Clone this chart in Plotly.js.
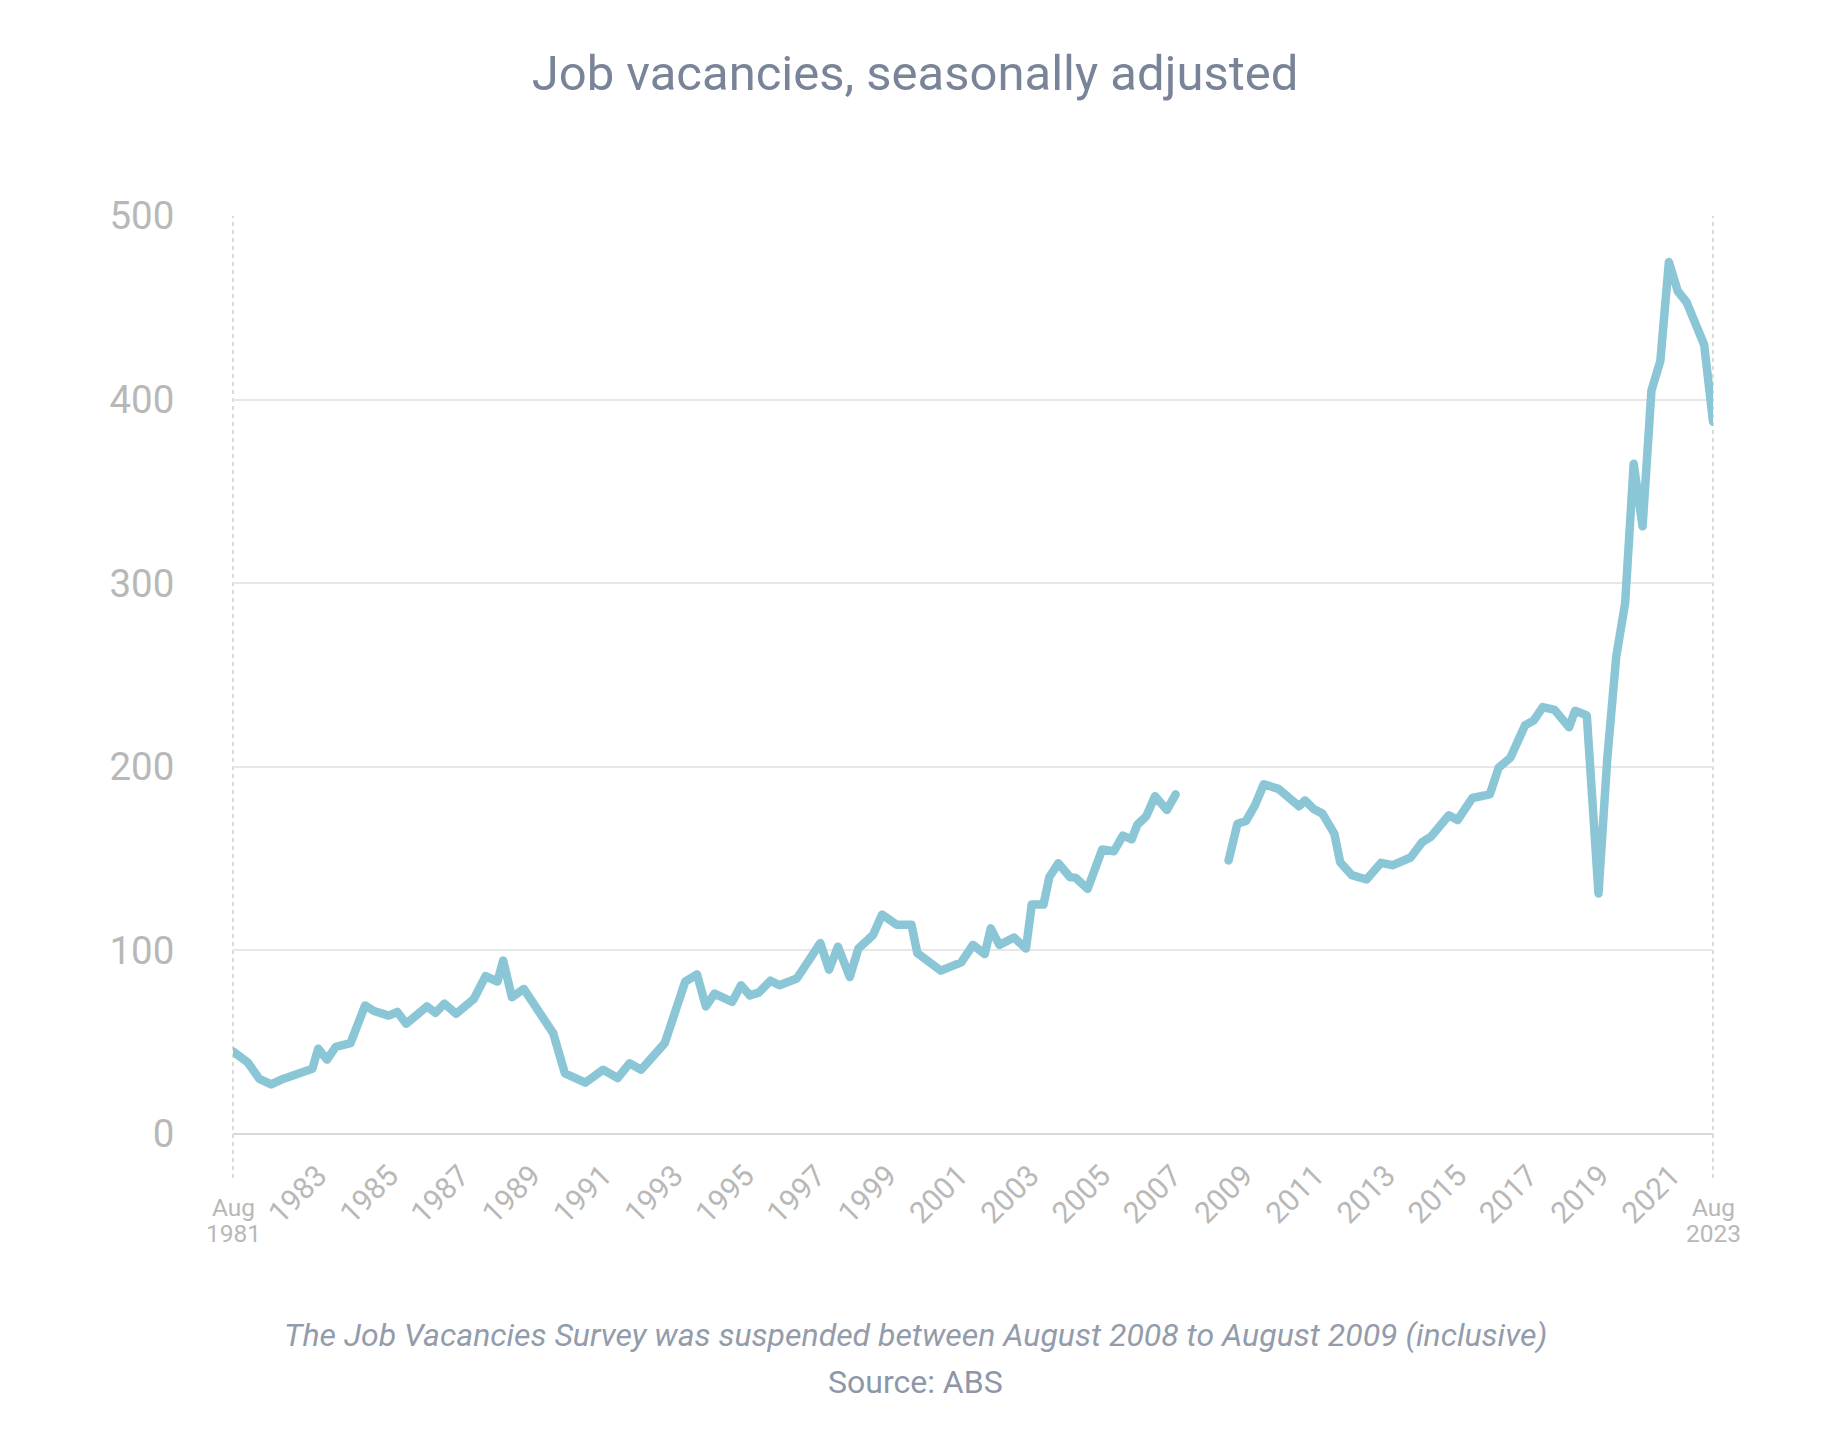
<!DOCTYPE html>
<html>
<head>
<meta charset="utf-8">
<script src="https://cdn.plot.ly/plotly-3.0.1.min.js"></script>
<style>
  html, body { margin: 0; padding: 0; background: #ffffff; }
  #chart { width: 1830px; height: 1436px; }
</style>
</head>
<body>
<div id="chart"></div>
<script>
// Job vacancies, seasonally adjusted ('000)
const dates = [
  "1981-08","1982-01","1982-05","1982-09","1983-01","1983-03","1983-11","1984-01","1984-04","1984-07",
  "1984-12","1985-05","1985-08","1986-01","1986-04","1986-07","1986-10","1987-02","1987-05","1987-08",
  "1987-12","1988-06","1988-10","1989-02","1989-04","1989-07","1989-11","1990-09","1991-01","1991-08",
  "1992-02","1992-07","1992-11","1993-03","1993-11","1994-06","1994-10","1995-01","1995-04","1995-10",
  "1996-01","1996-04","1996-07","1996-11","1997-02","1997-08","1998-04","1998-07","1998-10","1999-02",
  "1999-05","1999-10","2000-01","2000-06","2000-11","2001-01","2001-09","2002-04","2002-08","2002-12",
  "2003-02","2003-05","2003-10","2004-02","2004-04","2004-08","2004-10","2005-01","2005-05","2005-07",
  "2005-11","2006-04","2006-08","2006-11","2007-02","2007-04","2007-07","2007-10","2008-02","2008-05",
  "2008-08",
  "2009-11","2010-02","2010-05","2010-08","2010-11","2011-04","2011-11","2012-01","2012-04","2012-07",
  "2012-11","2013-01","2013-05","2013-10","2014-03","2014-07","2015-01","2015-05","2015-08","2016-02",
  "2016-05","2016-10","2017-04","2017-07","2017-11","2018-02","2018-04","2018-07","2018-10","2019-02",
  "2019-07","2019-09","2020-01","2020-05","2020-08","2020-11","2021-02","2021-05","2021-08","2021-11",
  "2022-02","2022-05","2022-08","2022-11","2023-05","2023-08"
];
const vacancies = [
  45, 39, 30, 27, 30, 31, 35.5, 46.5, 40.5, 47.5,
  49.5, 70, 67, 64.5, 66.5, 60, 64.5, 69.5, 66, 71,
  65.5, 73.5, 86, 83, 94.5, 74.5, 79, 55, 33, 28,
  35, 30.5, 38.5, 35, 49.5, 83, 87, 69.5, 76.5, 72,
  81, 75.5, 77, 83.5, 81, 84.7, 104, 89.5, 102, 85.5,
  101, 108.5, 119.5, 114, 114, 98.5, 89, 93.5, 103, 98,
  112, 103, 107, 101, 125, 125, 140, 147.5, 140, 139.5,
  133.5, 155, 154, 162.5, 160.5, 168.5, 173, 184, 176.5, 185,
  null,
  149, 169, 170.5, 179, 190.5, 188, 178.5, 181.7, 177, 174.5,
  163.6, 148, 141, 138.6, 147.7, 146.4, 150.6, 159, 162, 173.6,
  171, 183, 185, 199.5, 205, 214.4, 222.6, 225.3, 232.5, 231,
  221.5, 230.5, 228, 131, 205, 260, 289, 365, 331, 405,
  421, 475, 459, 453, 430, 388
];

// x-axis tick labels (rotated) and where they sit on the time scale
const tickLabels = ["1983","1985","1987","1989","1991","1993","1995","1997","1999","2001",
                    "2003","2005","2007","2009","2011","2013","2015","2017","2019","2021"];
const tickDates  = ["1984-01-01","1986-01-09","1988-01-16","1990-01-23","1992-01-31","1994-02-08",
                    "1996-02-15","1998-02-23","2000-03-02","2002-03-10","2004-03-18","2006-03-26",
                    "2008-04-02","2010-04-10","2012-04-18","2014-04-26","2016-05-03","2018-05-11",
                    "2020-05-19","2022-05-27"];
const yTicks = [0, 100, 200, 300, 400, 500];
const xStart = "1981-08-01", xEnd = "2023-08-01";

const labelGrey = "#b8b8b8";
const trace = {
  x: dates, y: vacancies, type: "scatter", mode: "lines",
  connectgaps: false,
  line: { color: "#8bc6d7", width: 8.5 },
  hoverinfo: "x+y"
};

const layout = {
  width: 1830, height: 1436,
  paper_bgcolor: "#ffffff", plot_bgcolor: "#ffffff",
  margin: { l: 233, r: 117, t: 216, b: 302 },
  showlegend: false,
  font: { family: "Roboto, 'Open Sans', sans-serif" },
  title: {
    text: "Job vacancies, seasonally adjusted",
    font: { family: "Roboto, sans-serif", size: 49, color: "#7a8498" },
    x: 0.5, xanchor: "center", y: 0.949, yanchor: "middle"
  },
  xaxis: {
    type: "date", range: [xStart, xEnd],
    showgrid: false, zeroline: false, showline: false,
    tickmode: "array", tickvals: tickDates, ticktext: tickLabels,
    tickangle: -45, ticks: "outside", ticklen: 11, tickcolor: "rgba(0,0,0,0)",
    tickfont: { family: "Roboto, sans-serif", size: 30, color: labelGrey },
    fixedrange: true
  },
  yaxis: {
    range: [0, 500], tickmode: "array", tickvals: yTicks,
    showgrid: true, gridcolor: "#e7e7e7", gridwidth: 1.5,
    zeroline: true, zerolinecolor: "#d9d9d9", zerolinewidth: 2,
    showline: false, ticks: "outside", ticklen: 50, tickcolor: "rgba(0,0,0,0)",
    tickfont: { family: "Roboto, sans-serif", size: 38.5, color: labelGrey },
    fixedrange: true
  },
  shapes: [
    { type: "line", xref: "paper", yref: "paper", x0: 0, x1: 0, y0: -0.048, y1: 1,
      line: { color: "#d0d0d0", width: 1.5, dash: "4px,4px" }, layer: "below" },
    { type: "line", xref: "paper", yref: "paper", x0: 1, x1: 1, y0: -0.048, y1: 1,
      line: { color: "#d0d0d0", width: 1.5, dash: "4px,4px" }, layer: "below" }
  ],
  annotations: [
    { text: "Aug", xref: "paper", yref: "paper", x: 0, y: -0.0806, xanchor: "center", yanchor: "middle",
      showarrow: false, font: { family: "Roboto, sans-serif", size: 24.5, color: labelGrey } },
    { text: "1981", xref: "paper", yref: "paper", x: 0, y: -0.1089, xanchor: "center", yanchor: "middle",
      showarrow: false, font: { family: "Roboto, sans-serif", size: 24.5, color: labelGrey } },
    { text: "Aug", xref: "paper", yref: "paper", x: 1, y: -0.0806, xanchor: "center", yanchor: "middle",
      showarrow: false, font: { family: "Roboto, sans-serif", size: 24.5, color: labelGrey } },
    { text: "2023", xref: "paper", yref: "paper", x: 1, y: -0.1089, xanchor: "center", yanchor: "middle",
      showarrow: false, font: { family: "Roboto, sans-serif", size: 24.5, color: labelGrey } },
    { text: "<i>The Job Vacancies Survey was suspended between August 2008 to August 2009 (inclusive)</i>",
      xref: "paper", yref: "paper", x: 0.4612, y: -0.2185, xanchor: "center", yanchor: "middle",
      showarrow: false, font: { family: "Roboto, sans-serif", size: 32, color: "#939cab" } },
    { text: "Source: ABS", xref: "paper", yref: "paper", x: 0.4612, y: -0.2705, xanchor: "center", yanchor: "middle",
      showarrow: false, font: { family: "Roboto, sans-serif", size: 32, color: "#8d97a7" } }
  ]
};

Plotly.newPlot("chart", [trace], layout, { displayModeBar: false }).then(function (gd) {
  gd.querySelectorAll("path.js-line").forEach(function (p) {
    p.style.strokeLinejoin = "round";
    p.style.strokeLinecap = "round";
  });
});
</script>
</body>
</html>
